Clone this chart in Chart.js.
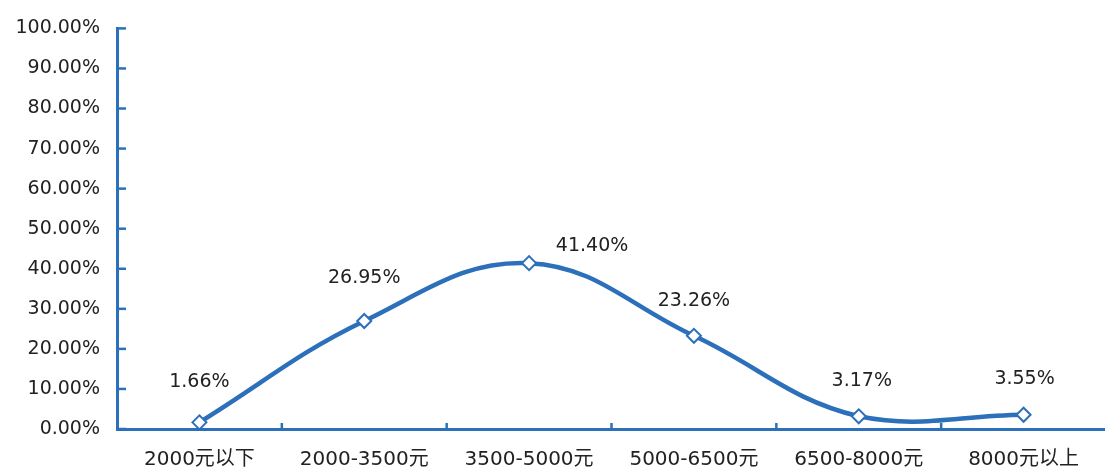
<!DOCTYPE html>
<html>
<head>
<meta charset="utf-8">
<script src="https://cdn.jsdelivr.net/npm/chart.js@4"></script>
<style>
  html, body { margin: 0; padding: 0; background: #fff; overflow: hidden; }
  #wrap { width: 1115px; height: 474px; }
</style>
</head>
<body>
<div id="wrap"><canvas id="incomeChart" width="1115" height="474"></canvas></div>
<script>
// income brackets and share of respondents (%)
const categories = ['2000元以下', '2000-3500元', '3500-5000元', '5000-6500元', '6500-8000元', '8000元以上'];
const shares = [1.66, 26.95, 41.40, 23.26, 3.17, 3.55];
const yTicks = [0, 10, 20, 30, 40, 50, 60, 70, 80, 90, 100];

const blue = '#2c6fba';
const textColor = '#222';
const fontFamily = '"DejaVu Sans", "Noto Sans CJK SC", sans-serif';

// where each value label sits relative to its point (px)
const labelShift = [[0, -40], [0, -43], [63, -17], [0, -35], [3, -35], [1, -36]];

const axisTicks = {
    id: 'axisTicks',
    afterDatasetsDraw(chart) {
        const ctx = chart.ctx;
        const x = chart.scales.x;
        const y = chart.scales.y;
        const area = chart.chartArea;
        ctx.save();
        ctx.strokeStyle = blue;
        ctx.lineWidth = 2.5;
        // category boundary marks on the x axis
        for (let i = 0; i < categories.length - 1; i++) {
            const px = (x.getPixelForValue(i) + x.getPixelForValue(i + 1)) / 2;
            ctx.beginPath();
            ctx.moveTo(px, area.bottom);
            ctx.lineTo(px, area.bottom - 6);
            ctx.stroke();
        }
        // value marks on the y axis
        yTicks.forEach(v => {
            const py = y.getPixelForValue(v);
            ctx.beginPath();
            ctx.moveTo(area.left, py);
            ctx.lineTo(area.left + 9, py);
            ctx.stroke();
        });
        // value labels
        const meta = chart.getDatasetMeta(0);
        ctx.fillStyle = textColor;
        ctx.font = '19px ' + fontFamily;
        ctx.textAlign = 'center';
        ctx.textBaseline = 'middle';
        meta.data.forEach((pt, i) => {
            const s = labelShift[i];
            ctx.fillText(shares[i].toFixed(2) + '%', pt.x + s[0], pt.y + s[1]);
        });
        ctx.restore();
    }
};

new Chart(document.getElementById('incomeChart'), {
    type: 'line',
    data: {
        labels: categories,
        datasets: [{
            data: shares,
            borderColor: blue,
            borderWidth: 4.5,
            tension: 0.4,
            pointStyle: 'rectRot',
            pointRadius: 7,
            pointBackgroundColor: '#fff',
            pointBorderColor: blue,
            pointBorderWidth: 2,
            clip: false
        }]
    },
    options: {
        responsive: false,
        animation: false,
        devicePixelRatio: 1,
        layout: { padding: { top: 26, right: 3, left: 0, bottom: 0 } },
        plugins: { legend: { display: false }, tooltip: { enabled: false } },
        scales: {
            x: {
                offset: true,
                grid: { display: false, drawTicks: false },
                border: { display: true, color: blue, width: 3 },
                ticks: { color: textColor, font: { family: fontFamily, size: 20 }, padding: 19, maxRotation: 0 },
                afterFit(scale) { scale.height = 45; }
            },
            y: {
                min: 0,
                max: 100,
                afterBuildTicks(scale) { scale.ticks = yTicks.map(v => ({ value: v })); },
                grid: { display: false, drawTicks: false },
                border: { display: true, color: blue, width: 3 },
                ticks: {
                    color: textColor,
                    font: { family: fontFamily, size: 19 },
                    padding: 17,
                    callback: v => v.toFixed(2) + '%'
                },
                afterFit(scale) { scale.width = 117; }
            }
        }
    },
    plugins: [axisTicks]
});
</script>
</body>
</html>
